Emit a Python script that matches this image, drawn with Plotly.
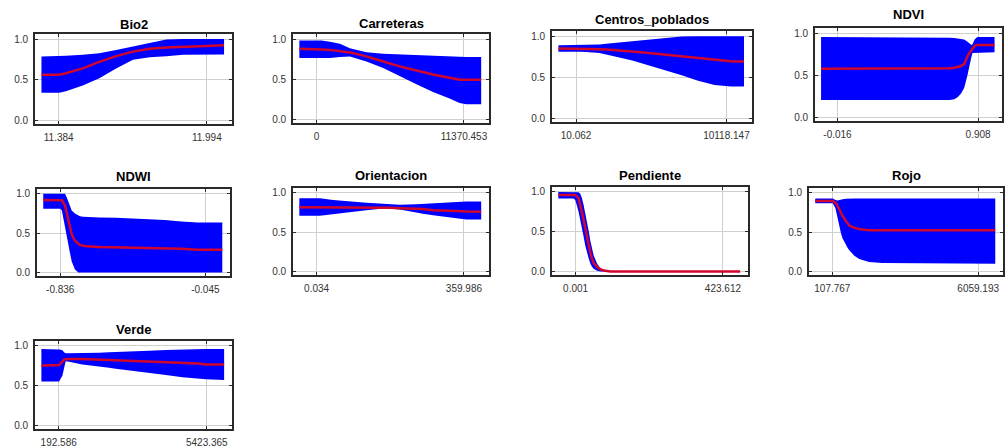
import plotly.graph_objects as go

# ---------------- data ----------------
TITLES = ["Bio2", "Carreteras", "Centros_poblados", "NDVI",
          "NDWI", "Orientacion", "Pendiente", "Rojo", "Verde"]

TICK_LO = [11.384, 0.0, 10.062, -0.016, -0.836, 0.034, 0.001, 107.767, 192.586]
TICK_HI = [11.994, 11370.453, 10118.147, 0.908, -0.045, 359.986, 423.612, 6059.193, 5423.365]
TICK_LO_TEXT = ["11.384", "0", "10.062", "-0.016", "-0.836", "0.034", "0.001", "107.767", "192.586"]
TICK_HI_TEXT = ["11.994", "11370.453", "10118.147", "0.908", "-0.045", "359.986", "423.612", "6059.193", "5423.365"]

# range of the plotted curves, in variable units
DATA_XMIN = [11.313, -1330.0, -1173.0, -0.124, -0.9285, -42.08, -49.6, -588.0, -419.0]
DATA_XMAX = [12.065, 12700.0, 11301.0, 1.016, 0.0475, 402.1, 473.2, 6755.0, 6035.0]

Y_TICKS = [0.0, 0.5, 1.0]
Y_TICK_TEXT = ["0.0", "0.5", "1.0"]

# relative position along each curve (0 = first point, 1 = last point) and response values
BIO2_F = [0, 0.097, 0.134, 0.226, 0.317, 0.409, 0.501, 0.593, 0.684, 0.776, 0.868, 0.905, 1]
BIO2_UP = [0.785, 0.79, 0.795, 0.806, 0.826, 0.866, 0.907, 0.955, 0.996, 1.0, 1.0, 1.0, 1.0]
BIO2_LO = [0.34, 0.34, 0.36, 0.43, 0.52, 0.64, 0.745, 0.777, 0.79, 0.806, 0.81, 0.81, 0.81]
BIO2_MEAN = [0.563, 0.563, 0.58, 0.64, 0.72, 0.79, 0.846, 0.88, 0.895, 0.907, 0.912, 0.915, 0.923]

CARR_F = [0, 0.086, 0.122, 0.168, 0.223, 0.278, 0.314, 0.369, 0.461, 0.552, 0.644, 0.735, 0.826, 0.881, 0.918, 1]
CARR_UP = [0.98, 0.98, 0.98, 0.965, 0.94, 0.886, 0.865, 0.837, 0.816, 0.808, 0.796, 0.79, 0.78, 0.776, 0.776, 0.776]
CARR_LO = [0.763, 0.763, 0.763, 0.763, 0.776, 0.784, 0.763, 0.72, 0.64, 0.54, 0.437, 0.343, 0.26, 0.205, 0.19, 0.19]
CARR_MEAN = [0.878, 0.878, 0.87, 0.865, 0.852, 0.833, 0.815, 0.784, 0.72, 0.66, 0.61, 0.56, 0.52, 0.494, 0.494, 0.494]

CENT_F = [0, 0.115, 0.150, 0.221, 0.257, 0.31, 0.398, 0.487, 0.575, 0.664, 0.752, 0.841, 0.929, 1]
CENT_UP = [0.889, 0.889, 0.89, 0.897, 0.909, 0.92, 0.94, 0.96, 0.98, 0.996, 1.0, 1.0, 1.0, 1.0]
CENT_LO = [0.81, 0.81, 0.806, 0.794, 0.78, 0.75, 0.704, 0.644, 0.585, 0.526, 0.458, 0.407, 0.387, 0.387]
CENT_MEAN = [0.85, 0.85, 0.848, 0.842, 0.838, 0.83, 0.814, 0.794, 0.775, 0.755, 0.735, 0.715, 0.696, 0.692]

NDVI_F = [0, 0.655, 0.712, 0.74, 0.768, 0.787, 0.806, 0.825, 0.844, 0.86, 0.867, 0.873, 0.882, 0.886, 0.901, 1]
NDVI_UP = [0.955, 0.955, 0.95, 0.948, 0.945, 0.94, 0.936, 0.925, 0.9, 0.87, 0.86, 0.87, 0.91, 0.93, 0.955, 0.955]
NDVI_LO = [0.208, 0.208, 0.208, 0.208, 0.215, 0.24, 0.28, 0.35, 0.5, 0.65, 0.72, 0.766, 0.774, 0.774, 0.774, 0.774]
NDVI_MEAN = [0.577, 0.577, 0.58, 0.585, 0.59, 0.596, 0.61, 0.634, 0.728, 0.78, 0.80, 0.823, 0.845, 0.852, 0.86, 0.86]

NDWI_F = [0, 0.095, 0.104, 0.122, 0.132, 0.141, 0.15, 0.159, 0.177, 0.196, 0.205, 0.223, 0.241, 0.314, 0.406, 0.497, 0.589, 0.68, 0.771, 0.863, 1]
NDWI_UP = [1.0, 1.0, 1.0, 1.0, 0.95, 0.89, 0.83, 0.79, 0.75, 0.725, 0.715, 0.708, 0.705, 0.70, 0.696, 0.688, 0.68, 0.668, 0.648, 0.636, 0.636]
NDWI_LO = [0.81, 0.81, 0.79, 0.587, 0.46, 0.344, 0.24, 0.142, 0.04, 0.0, 0.0, 0.0, 0.0, 0.0, 0.0, 0.0, 0.0, 0.0, 0.0, 0.0, 0.0]
NDWI_MEAN = [0.923, 0.923, 0.92, 0.85, 0.75, 0.648, 0.56, 0.486, 0.405, 0.37, 0.352, 0.342, 0.336, 0.324, 0.32, 0.316, 0.312, 0.312, 0.304, 0.291, 0.291]

ORIE_F = [0, 0.113, 0.186, 0.278, 0.369, 0.461, 0.497, 0.552, 0.644, 0.68, 0.735, 0.826, 0.899, 0.918, 1]
ORIE_UP = [0.93, 0.93, 0.91, 0.89, 0.875, 0.862, 0.855, 0.85, 0.855, 0.86, 0.87, 0.88, 0.89, 0.89, 0.89]
ORIE_LO = [0.708, 0.708, 0.729, 0.757, 0.78, 0.8, 0.8, 0.79, 0.75, 0.735, 0.717, 0.69, 0.665, 0.66, 0.66]
ORIE_MEAN = [0.818, 0.818, 0.818, 0.818, 0.818, 0.818, 0.81, 0.805, 0.8, 0.795, 0.78, 0.777, 0.765, 0.762, 0.76]

PEND_F = [0, 0.083, 0.093, 0.102, 0.111, 0.12, 0.13, 0.139, 0.148, 0.157, 0.167, 0.176, 0.185, 0.194, 0.213, 0.231, 0.25, 0.259, 0.287, 0.306, 1]
PEND_UP = [1.0, 1.0, 1.0, 1.0, 0.995, 0.98, 0.92, 0.837, 0.74, 0.633, 0.51, 0.388, 0.29, 0.204, 0.1, 0.04, 0.015, 0.01, 0.0, 0.0, 0.0]
PEND_LO = [0.918, 0.918, 0.9, 0.83, 0.755, 0.65, 0.55, 0.44, 0.327, 0.24, 0.163, 0.1, 0.06, 0.035, 0.01, 0.0, 0.0, 0.0, 0.0, 0.0, 0.0]
PEND_MEAN = [0.96, 0.96, 0.96, 0.945, 0.92, 0.84, 0.755, 0.65, 0.55, 0.44, 0.327, 0.24, 0.163, 0.11, 0.06, 0.03, 0.012, 0.008, 0.002, 0.0, 0.0]

ROJO_F = [0, 0.097, 0.112, 0.116, 0.119, 0.125, 0.134, 0.143, 0.152, 0.171, 0.18, 0.189, 0.207, 0.217, 0.244, 0.262, 0.299, 0.372, 0.556, 1]
ROJO_UP = [0.927, 0.927, 0.91, 0.905, 0.9, 0.902, 0.908, 0.915, 0.92, 0.925, 0.927, 0.927, 0.927, 0.927, 0.927, 0.927, 0.927, 0.927, 0.927, 0.927]
ROJO_LO = [0.867, 0.867, 0.806, 0.76, 0.72, 0.665, 0.57, 0.484, 0.42, 0.335, 0.3, 0.27, 0.222, 0.2, 0.16, 0.145, 0.121, 0.109, 0.1, 0.1]
ROJO_MEAN = [0.895, 0.895, 0.875, 0.867, 0.855, 0.83, 0.786, 0.746, 0.706, 0.64, 0.605, 0.585, 0.565, 0.556, 0.54, 0.536, 0.524, 0.524, 0.524, 0.524]

VERD_F = [0, 0.088, 0.097, 0.1, 0.106, 0.115, 0.124, 0.133, 0.142, 0.151, 0.224, 0.316, 0.37, 0.407, 0.498, 0.589, 0.681, 0.772, 0.863, 0.9, 1]
VERD_UP = [0.96, 0.96, 0.96, 0.955, 0.95, 0.945, 0.92, 0.907, 0.907, 0.907, 0.907, 0.915, 0.92, 0.922, 0.93, 0.94, 0.948, 0.956, 0.96, 0.96, 0.96]
VERD_LO = [0.552, 0.552, 0.552, 0.56, 0.59, 0.625, 0.72, 0.806, 0.803, 0.8, 0.766, 0.738, 0.725, 0.714, 0.685, 0.657, 0.633, 0.605, 0.585, 0.58, 0.573]
VERD_MEAN = [0.754, 0.754, 0.76, 0.765, 0.778, 0.80, 0.827, 0.833, 0.835, 0.835, 0.835, 0.827, 0.819, 0.815, 0.81, 0.802, 0.794, 0.786, 0.778, 0.766, 0.766]

SERIES = [
    (BIO2_F, BIO2_UP, BIO2_LO, BIO2_MEAN),
    (CARR_F, CARR_UP, CARR_LO, CARR_MEAN),
    (CENT_F, CENT_UP, CENT_LO, CENT_MEAN),
    (NDVI_F, NDVI_UP, NDVI_LO, NDVI_MEAN),
    (NDWI_F, NDWI_UP, NDWI_LO, NDWI_MEAN),
    (ORIE_F, ORIE_UP, ORIE_LO, ORIE_MEAN),
    (PEND_F, PEND_UP, PEND_LO, PEND_MEAN),
    (ROJO_F, ROJO_UP, ROJO_LO, ROJO_MEAN),
    (VERD_F, VERD_UP, VERD_LO, VERD_MEAN),
]

# ---------------- layout (pixel boxes of each panel) ----------------
W, H = 1008, 448
BOXES = [  # x0, x1, y_top, y_bottom
    (35, 232, 34, 125),
    (293, 489, 34, 124),
    (552, 752, 31, 123),
    (815, 1002, 28, 122),
    (37, 230, 190, 278),
    (293, 489, 189, 277),
    (552, 748, 188, 277),
    (809, 1003, 189, 277),
    (35, 232, 343, 432),
]
TITLE_Y = [25, 24, 20, 15, 178, 177, 177, 177, 332]

BAND_COLOR = "#0000ff"
LINE_COLOR = "#d0062c"
FRAME = "#2a2a2a"
GRID = "#cfcfcf"
FONT = "Liberation Sans, Arial, sans-serif"

fig = go.Figure()
layout = dict(
    width=W, height=H, margin=dict(l=0, r=0, t=0, b=0),
    paper_bgcolor="white", plot_bgcolor="white", showlegend=False,
    annotations=[],
)

for i, (f, up, lo, mean) in enumerate(SERIES):
    n = i + 1
    xa = "x" if n == 1 else f"x{n}"
    ya = "y" if n == 1 else f"y{n}"
    x0, x1 = DATA_XMIN[i], DATA_XMAX[i]
    xs = [x0 + v * (x1 - x0) for v in f]

    fig.add_trace(go.Scatter(
        x=xs + xs[::-1], y=up + lo[::-1], fill="toself", fillcolor=BAND_COLOR,
        line=dict(width=0, color=BAND_COLOR), mode="lines", hoverinfo="skip",
        xaxis=xa, yaxis=ya))
    fig.add_trace(go.Scatter(
        x=xs, y=mean, mode="lines", line=dict(color=LINE_COLOR, width=2.5),
        xaxis=xa, yaxis=ya))

    bx0, bx1, by0, by1 = BOXES[i]
    t1, t2 = TICK_LO[i], TICK_HI[i]
    d = t2 - t1
    axis_common = dict(
        showline=True, linecolor=FRAME, linewidth=1.7, mirror="allticks",
        ticks="inside", ticklen=3, tickcolor=FRAME, tickwidth=1.2,
        showgrid=True, gridcolor=GRID, gridwidth=1, zeroline=False,
        tickfont=dict(family=FONT, size=10, color="#333333"),
        fixedrange=True,
    )
    layout["xaxis" if n == 1 else f"xaxis{n}"] = dict(
        axis_common, domain=[bx0 / W, bx1 / W], anchor=ya,
        range=[t1 - 0.16 * d, t2 + 0.17 * d],
        tickvals=[t1, t2], ticktext=[TICK_LO_TEXT[i], TICK_HI_TEXT[i]],
        ticklabelstandoff=3,
    )
    layout["yaxis" if n == 1 else f"yaxis{n}"] = dict(
        axis_common, domain=[1 - by1 / H, 1 - by0 / H], anchor=xa,
        range=[-0.045, 1.065], tickvals=Y_TICKS, ticktext=Y_TICK_TEXT,
        ticklabelstandoff=3,
    )
    layout["annotations"].append(dict(
        text=f"<b>{TITLES[i]}</b>", x=(bx0 + bx1) / 2 / W, y=1 - TITLE_Y[i] / H,
        xref="paper", yref="paper", xanchor="center", yanchor="middle",
        showarrow=False, font=dict(family=FONT, size=13, color="black")))

fig.update_layout(**layout)
fig.write_html("out.html")
